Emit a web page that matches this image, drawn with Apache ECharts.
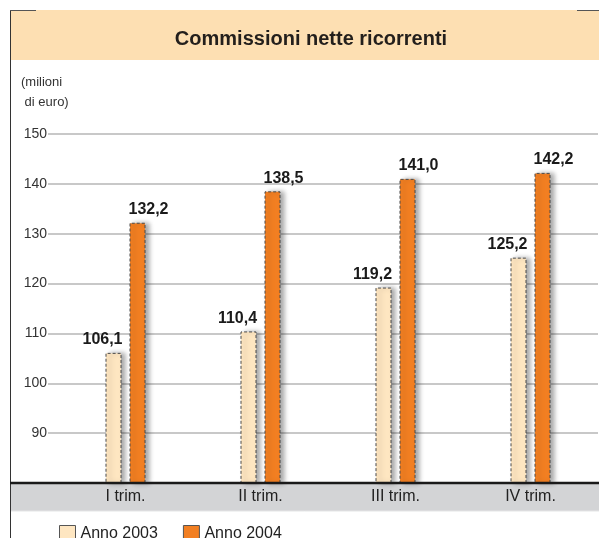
<!DOCTYPE html>
<html>
<head>
<meta charset="utf-8">
<script src="https://cdn.jsdelivr.net/npm/echarts@6/dist/echarts.min.js"></script>
<style>
  html, body { margin: 0; padding: 0; background: #fff; }
  #main { width: 599px; height: 538px; }
</style>
</head>
<body>
<div id="main"></div>
<script>
// dati
var categories = ['I trim.', 'II trim.', 'III trim.', 'IV trim.'];
var anno2003 = [106.1, 110.4, 119.2, 125.2];
var anno2004 = [132.2, 138.5, 141.0, 142.2];
var seriesNames = ['Anno 2003', 'Anno 2004'];

var myChart = echarts.init(document.getElementById('main'));

function fmt(v) {
  return v.toFixed(1).replace('.', ',');
}

var barStyle = function (color) {
  return {
    color: color,
    borderColor: '#4a4a4a',
    borderWidth: 1,
    borderType: [3, 2],
    shadowColor: 'rgba(0,0,0,0.35)',
    shadowBlur: 5,
    shadowOffsetX: 4
  };
};

myChart.setOption({
  animation: false,
  textStyle: { fontFamily: 'Liberation Sans, Arial, sans-serif' },
  graphic: [
    // fascia titolo
    { type: 'rect', shape: { x: 10, y: 10, width: 589, height: 50 }, style: { fill: '#fddfb2' }, z: -1 },
    // fascia categorie
    { type: 'rect', shape: { x: 10, y: 484, width: 589, height: 27 }, style: { fill: '#d3d4d6' }, z: -1 },
    { type: 'line', shape: { x1: 10, y1: 511, x2: 599, y2: 511 }, style: { stroke: '#e4e5e6', lineWidth: 1 } },
    // bordi
    { type: 'line', shape: { x1: 10.5, y1: 10, x2: 10.5, y2: 538 }, style: { stroke: '#333', lineWidth: 1 } },
    { type: 'line', shape: { x1: 10, y1: 10.5, x2: 36, y2: 10.5 }, style: { stroke: '#555', lineWidth: 1 } },
    { type: 'line', shape: { x1: 577, y1: 10.5, x2: 599, y2: 10.5 }, style: { stroke: '#555', lineWidth: 1 } },
    { type: 'line', shape: { x1: 10, y1: 483, x2: 599, y2: 483 }, style: { stroke: '#1a1a1a', lineWidth: 2.5 }, z: 10 },
    // unità di misura
    {
      type: 'text', left: 21, top: 72,
      style: { text: '(milioni\n di euro)', fontSize: 13, lineHeight: 20, fill: '#333', fontFamily: 'Liberation Sans, Arial, sans-serif' }
    }
  ],
  title: {
    text: 'Commissioni nette ricorrenti',
    left: 306,
    textAlign: 'center',
    top: 24,
    textStyle: { fontSize: 20, fontWeight: 'bold', color: '#231f1c' }
  },
  legend: {
    data: seriesNames,
    left: 54,
    top: 520,
    itemWidth: 16,
    itemHeight: 16,
    itemGap: 25,
    icon: 'rect',
    itemStyle: { borderColor: '#555', borderWidth: 1, borderType: 'solid', shadowBlur: 0, shadowOffsetX: 0 },
    textStyle: { fontSize: 16, color: '#222' }
  },
  grid: {
    left: 58,
    right: 1,
    top: 134,
    bottom: 55
  },
  xAxis: {
    type: 'category',
    data: categories,
    axisLine: { show: false },
    axisTick: { show: false },
    axisLabel: { fontSize: 16, color: '#222', margin: 6 }
  },
  yAxis: {
    type: 'value',
    min: 80,
    max: 150,
    interval: 10,
    axisLine: { show: false },
    axisTick: { show: true, length: 10, lineStyle: { color: '#c8c8c8', width: 2 } },
    splitLine: { lineStyle: { color: '#c8c8c8', width: 2 } },
    axisLabel: {
      fontSize: 14,
      color: '#333',
      margin: 11,
      formatter: function (v) { return v === 80 ? '' : v; }
    }
  },
  series: [
    {
      name: seriesNames[0],
      type: 'bar',
      data: anno2003,
      barWidth: 16,
      barGap: '50%',
      itemStyle: barStyle('#fee6c1'),
      label: {
        show: true,
        position: 'top',
        offset: [-11, 0],
        fontSize: 16,
        fontWeight: 'bold',
        color: '#1a1a1a',
        formatter: function (p) { return fmt(p.value); }
      }
    },
    {
      name: seriesNames[1],
      type: 'bar',
      data: anno2004,
      barWidth: 16,
      barGap: '50%',
      itemStyle: barStyle('#f27f22'),
      label: {
        show: true,
        position: 'top',
        offset: [11, 0],
        fontSize: 16,
        fontWeight: 'bold',
        color: '#1a1a1a',
        formatter: function (p) { return fmt(p.value); }
      }
    }
  ]
});
</script>
</body>
</html>
